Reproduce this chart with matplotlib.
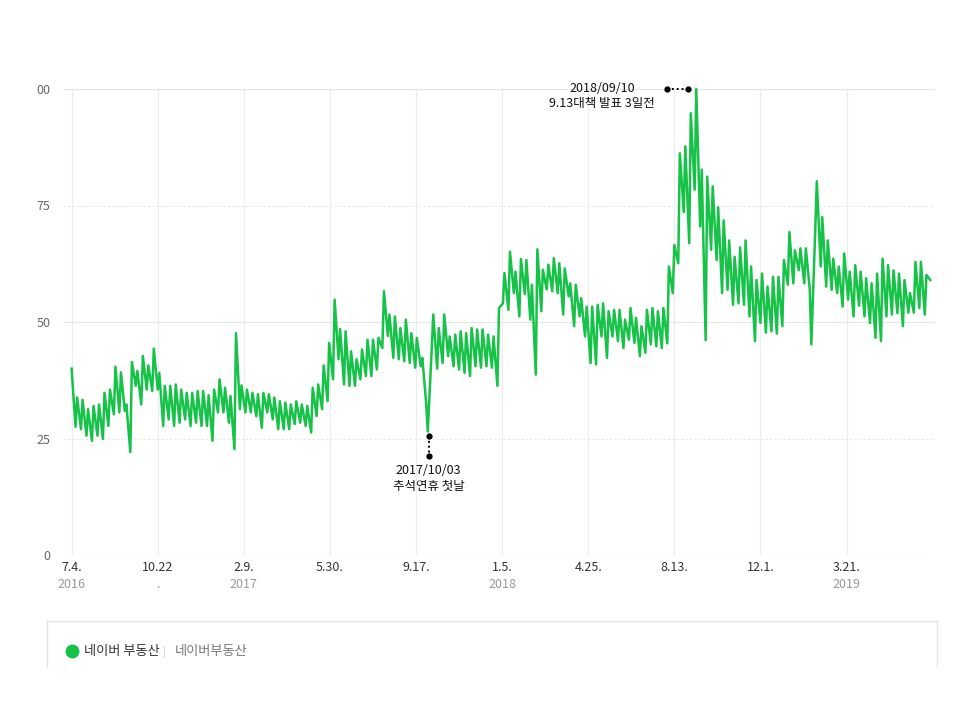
import matplotlib
matplotlib.use("Agg")
import matplotlib.pyplot as plt
from matplotlib.lines import Line2D
import datetime as dt

plt.rcParams["font.family"] = ["Noto Sans CJK KR", "DejaVu Sans"]

# weekly search index: weekday high (Monday) and weekend low (Saturday)
start = dt.date(2016, 7, 4)
week_hi = [
    40, 33.8, 33.3, 31.3, 32, 32.3, 34.8, 35.5, 40.4, 39.2,
    32.3, 41.4, 39.5, 42.7, 40.7, 44.3, 39.1, 36.3, 36.3, 36.6,
    35.5, 34.8, 34.8, 35.2, 35.2, 34.3, 35.5, 37.7, 35.9, 34.1,
    47.6, 36.4, 35.5, 34.8, 34.5, 34.8, 34.5, 33.8, 33, 32.7,
    32.3, 33, 32.3, 32, 35.9, 36.6, 40.7, 45.5, 54.8, 48.5,
    48, 43.7, 42, 44.1, 46.2, 46.2, 46.6, 56.6, 51.6, 51.2,
    48.7, 50.5, 47.6, 46.6, 42.3, 26.5, 51.6, 48.7, 51.6, 46.9,
    47.3, 48, 47.6, 48.7, 48.4, 48.4, 47.3, 46.9, 53, 60.5,
    65.1, 60.8, 63.5, 63.3, 58, 65.6, 61.2, 62.3, 63.7, 62.6,
    61.5, 58.3, 58, 55.1, 53.3, 53.3, 53.7, 54, 52.3, 52.6,
    52.6, 50.5, 53, 50.9, 49.1, 52.6, 53, 52.3, 53, 61.9,
    66.5, 86.2, 87.7, 94.8, 100, 82.7, 81.2, 79.1, 74.6, 71.8,
    67.5, 64, 66, 67.5, 61.9, 59, 60.4, 57.6, 59.7, 59.7,
    63.3, 69.3, 65.4, 65.8, 65.8, 45.2, 80.2, 72.5, 67.5, 63.6,
    61.9, 64.7, 60.8, 62.2, 60.8, 59.4, 58.3, 60.4, 63.6, 62.2,
    61.1, 60.4, 59, 56.2, 62.9, 62.9, 60.1,
]
week_lo = [
    27.5, 27, 25.6, 24.5, 25.6, 24.9, 27.7, 30.2, 30.6, 30.9,
    22.1, 36.3, 32.3, 35.5, 35.2, 35.5, 27.7, 29.1, 27.7, 28.4,
    29.1, 27.7, 28.4, 27.7, 27.7, 24.5, 30.6, 30.6, 28.4, 22.7,
    31.3, 30.6, 30.6, 29.8, 27.3, 30.6, 29.1, 27, 27, 27,
    28.1, 28.4, 27.7, 26.3, 29.8, 31.3, 33, 37.7, 42, 36.6,
    36.3, 36.3, 37.7, 38.4, 38.4, 39.8, 44.4, 47, 42.3, 42,
    41.6, 41.2, 40.2, 40.5, 32.5, 44, 40, 41.2, 42.7, 40.5,
    39.8, 39.1, 38.4, 40.5, 40.2, 40.5, 40.2, 36.3, 54, 52.6,
    56.2, 51.2, 56, 50.5, 38.7, 52.3, 57, 56.6, 56.2, 51.6,
    55.5, 49.1, 51.2, 46.9, 41.2, 40.9, 46.9, 42.3, 46.9, 45.9,
    44.4, 46.2, 45.5, 42.7, 43.4, 45.2, 44.8, 44.4, 45.4, 56.2,
    62.6, 73.6, 66.9, 78.4, 70.5, 46.1, 65.5, 63.3, 56.2, 56.9,
    53.7, 54, 53.7, 51.2, 45.9, 49.8, 47.7, 48, 47.5, 49.1,
    58, 58.3, 61.1, 58.3, 57, 69.7, 61.9, 57.6, 56.9, 56.2,
    53.3, 54.8, 51.2, 53.5, 51.2, 49.8, 46.6, 45.9, 51.2, 51.6,
    51.9, 49.1, 52, 52, 53, 51.6, 59,
]

tick_top = ["7.4.", "10.22", "2.9.", "5.30.", "9.17.", "1.5.", "4.25.", "8.13.", "12.1.", "3.21."]
tick_bottom = ["2016", ".", "2017", "", "", "2018", "", "", "", "2019"]

dates, vals = [], []
for k, (h, l) in enumerate(zip(week_hi, week_lo)):
    dates.append(start + dt.timedelta(days=7 * k))
    vals.append(h)
    dates.append(start + dt.timedelta(days=7 * k + 5))
    vals.append(l)

green = "#16c247"
fig = plt.figure(figsize=(9.6, 7.2), dpi=100)
ax = fig.add_axes([63 / 960, 1 - 555 / 720, (935 - 63) / 960, (555 - 89) / 720])

ax.set_xlim(start - dt.timedelta(days=11), start + dt.timedelta(days=1103))
ax.set_ylim(0, 100)

ticks = [start + dt.timedelta(days=110 * i) for i in range(len(tick_top))]
ax.set_xticks(ticks)
ax.set_xticklabels(tick_top, color="#333333", fontsize=9)
for t, lab in zip(ticks, tick_bottom):
    ax.text(t, -0.05, lab, transform=ax.get_xaxis_transform(), ha="center",
            va="top", color="#999999", fontsize=9)
ax.set_yticks([0, 25, 50, 75, 100])
ax.set_yticklabels(["0", "25", "50", "75", "00"], color="#666666", fontsize=9)
ax.tick_params(length=0, pad=9)
ax.tick_params(axis="x", pad=4)
for s in ax.spines.values():
    s.set_visible(False)

for t in ticks:
    ax.axvline(t, color="#ececec", lw=0.8, zorder=0)
for yv in [0, 50, 100]:
    ax.axhline(yv, color="#e6e6e6", lw=0.8, zorder=0)
for yv in [25, 75]:
    ax.axhline(yv, color="#e6e6e6", lw=0.8, ls=(0, (2, 2)), zorder=0)

ax.plot(dates, vals, color=green, lw=1.8, clip_on=False, zorder=3)

# annotations
a1 = dt.date(2017, 10, 3)
ax.plot([a1, a1], [25.5, 21.3], color="black", lw=1.4, ls=(0, (1, 1.5)), zorder=4)
ax.plot([a1, a1], [25.5, 21.3], "o", color="black", ms=3.5, zorder=5)
ax.text(a1, 19.5, "2017/10/03\n추석연휴 첫날", ha="center", va="top",
        fontsize=9, color="#111111", linespacing=1.25)

a2r = dt.date(2018, 8, 31)
a2l = dt.date(2018, 8, 4)
ax.plot([a2l, a2r], [100, 100], color="black", lw=1.4, ls=(0, (1, 1.5)),
        zorder=4, clip_on=False)
ax.plot([a2l, a2r], [100, 100], "o", color="black", ms=3.5, zorder=5, clip_on=False)
ax.text(dt.date(2018, 5, 13), 98.6, "2018/09/10\n9.13대책 발표 3일전", ha="center",
        va="center", fontsize=9, color="#111111", linespacing=1.2)

# legend box
fig.add_artist(Line2D([47 / 960, 937 / 960], [1 - 621 / 720] * 2, color="#e5e5e5", lw=1))
fig.add_artist(Line2D([47 / 960] * 2, [1 - 621 / 720, 1 - 666 / 720], color="#e5e5e5", lw=1))
fig.add_artist(Line2D([937 / 960] * 2, [1 - 621 / 720, 1 - 666 / 720], color="#e5e5e5", lw=1))
fig.add_artist(Line2D([72 / 960], [1 - 651 / 720], marker="o", ms=9, color=green, lw=0))
fig.text(84 / 960, 1 - 652 / 720, "네이버 부동산", va="center", fontsize=9.5, color="#333333")
fig.text(163 / 960, 1 - 652 / 720, "|", va="center", fontsize=8, color="#cccccc")
fig.text(175 / 960, 1 - 652 / 720, "네이버부동산", va="center", fontsize=9.5, color="#777777")

fig.savefig("out.png", dpi=100)
